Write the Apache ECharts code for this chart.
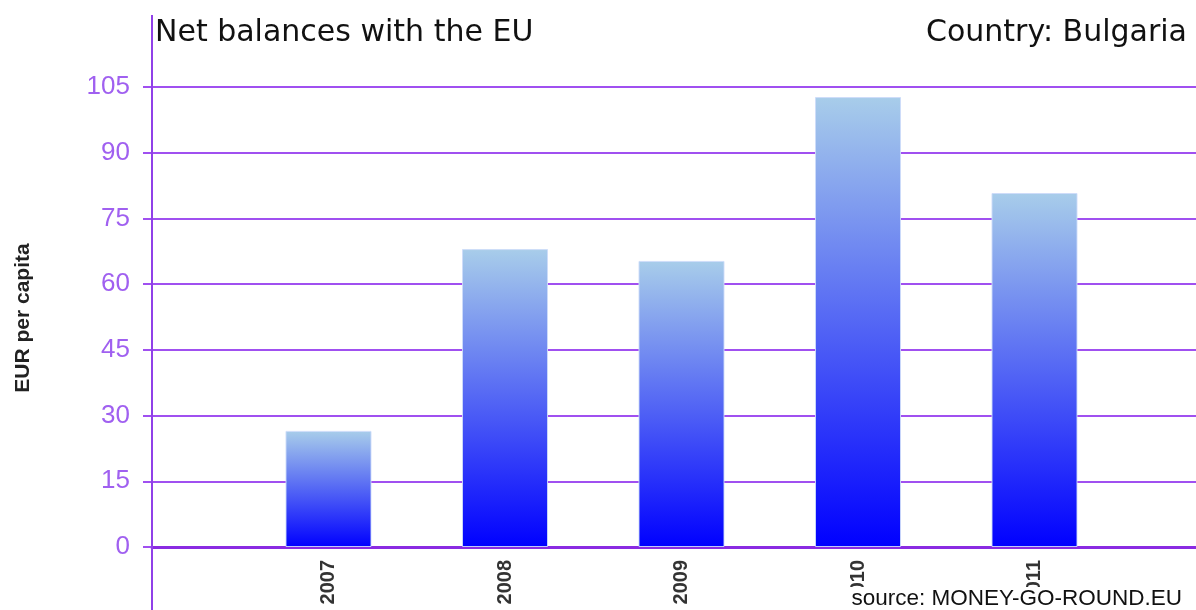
<!DOCTYPE html>
<html><head><meta charset="utf-8">
<script src="https://cdn.jsdelivr.net/npm/echarts@6/dist/echarts.min.js"></script>
<style>html,body{margin:0;padding:0;background:#fff}#c{width:1196px;height:610px}</style>
</head><body><div id="c"></div>
<script>
const years = [2007, 2008, 2009, 2010, 2011];
const values = [26.5, 68.0, 65.3, 102.7, 80.8];
const yTicks = {min: 0, max: 105, interval: 15};
const titleText = 'Net balances with the EU';
const countryText = 'Country: Bulgaria';
const yName = 'EUR per capita';
const sourceText = 'source: MONEY-GO-ROUND.EU';

const chart = echarts.init(document.getElementById('c'));
const purple = '#a050f0';
chart.setOption({
  animation: false,
  backgroundColor: '#fff',
  grid: {left: 152, right: 0, top: 87, bottom: 63},
  xAxis: {
    type: 'value', min: 2006, max: 2006 + 1044 / 176.5, interval: 1,
    axisLine: {show: true, onZero: true, lineStyle: {color: '#8a2be2', width: 3}},
    axisTick: {show: false},
    splitLine: {show: false},
    axisLabel: {
      rotate: 90, margin: 13, fontSize: 20, fontWeight: 'bold', color: '#333',
      fontFamily: 'Liberation Sans',
      formatter: v => years.indexOf(v) >= 0 ? String(v) : ''
    }
  },
  yAxis: {
    type: 'value', min: yTicks.min, max: yTicks.max, interval: yTicks.interval,
    axisLine: {show: false},
    axisTick: {show: true, length: 9, lineStyle: {color: purple, width: 2}},
    splitLine: {show: true, lineStyle: {color: purple, width: 2}},
    axisLabel: {fontSize: 26, color: '#a060f0', margin: 22, fontFamily: 'Liberation Sans'}
  },
  series: [{
    type: 'bar', barWidth: 86,
    data: years.map((y, i) => [y, values[i]]),
    itemStyle: {
      borderColor: 'rgba(205,220,250,0.9)', borderWidth: 1,
      color: new echarts.graphic.LinearGradient(0, 0, 0, 1, [
        {offset: 0, color: '#a8cdea'},
        {offset: 1, color: '#0000ff'}
      ])
    }
  }],
  graphic: [
    {type: 'line', shape: {x1: 152, y1: 15, x2: 152, y2: 610}, style: {stroke: '#9040e8', lineWidth: 2}, z: 10},
    {type: 'text', left: 155, top: 18, style: {text: titleText, fontSize: 30, fill: '#111', fontFamily: 'DejaVu Sans'}},
    {type: 'text', right: 9, top: 18, style: {text: countryText, fontSize: 30, fill: '#111', fontFamily: 'DejaVu Sans'}},
    {type: 'text', x: 23, y: 318, rotation: Math.PI / 2,
      style: {text: yName, fontSize: 21, fontWeight: 'bold', fill: '#222', fontFamily: 'Liberation Sans', align: 'center', verticalAlign: 'middle'}},
    {type: 'text', right: 12, bottom: 0, z: 20,
      style: {text: sourceText, fontSize: 22.5, fill: '#111', fontFamily: 'Liberation Sans', backgroundColor: '#fff', padding: [0, 2, 0, 2]}}
  ]
});
</script></body></html>
